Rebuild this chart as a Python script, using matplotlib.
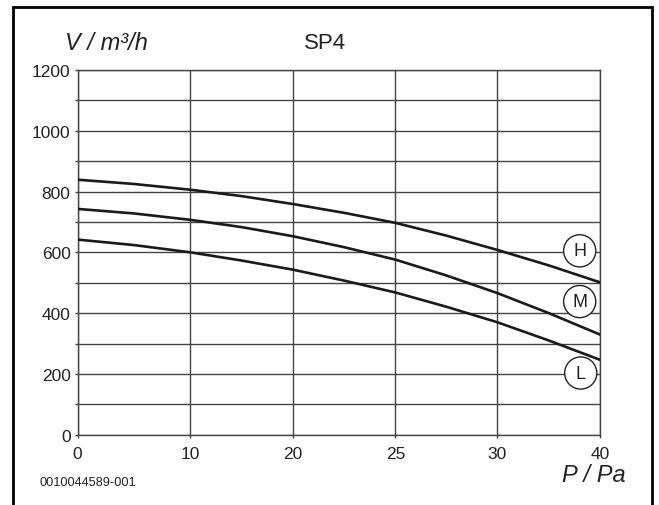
import numpy as np
import matplotlib
matplotlib.use("Agg")
import matplotlib.pyplot as plt
from matplotlib.patches import Rectangle

# ---- data ----
pressure = [0, 5, 10, 15, 20, 22.5, 25, 27.5, 30, 35, 40]
flow_h = [839, 825, 806, 785, 759, 730, 697, 655, 608, 557, 501]
flow_m = [743, 728, 707, 683, 653, 617, 576, 524, 466, 400, 329]
flow_l = [642, 624, 600, 573, 543, 507, 468, 421, 370, 310, 246]

x_ticks = [0, 10, 20, 25, 30, 40]
y_ticks = [0, 200, 400, 600, 800, 1000, 1200]
y_grid = list(range(0, 1300, 100))

labels = ["H", "M", "L"]
label_pos = [(38.0, 605), (38.0, 438), (38.1, 203)]

# x axis is not linear: tick slots are (nearly) evenly spaced
slot_pos = [0, 113, 215.5, 318, 420, 523]


def fwd(x):
    return np.interp(x, x_ticks, slot_pos)


def inv(x):
    return np.interp(x, slot_pos, x_ticks)


plt.rcParams["font.family"] = ["Liberation Sans", "DejaVu Sans"]

fig = plt.figure(figsize=(6.59, 5.06), dpi=100)
ax = fig.add_axes([77.5 / 659, 1 - 435.7 / 506, (600.3 - 77.5) / 659, (435.7 - 71) / 506])

ax.set_xscale("function", functions=(fwd, inv))
ax.set_xlim(0, 40)
ax.set_ylim(0, 1200)

grid_c = "#444444"
for v in y_grid:
    ax.axhline(v, color=grid_c, lw=1.0, zorder=1)
for v in x_ticks:
    ax.axvline(v, color=grid_c, lw=1.0, zorder=1)

for s in ax.spines.values():
    s.set_color(grid_c)
    s.set_linewidth(1.0)

for ys in (flow_h, flow_m, flow_l):
    ax.plot(pressure, ys, color="#1a1a1a", lw=1.9, solid_capstyle="butt", zorder=3)

for lab, (px, py) in zip(labels, label_pos):
    ax.text(px, py, lab, ha="center", va="center", fontsize=13, color="#222222",
            zorder=4, bbox=dict(boxstyle="circle,pad=0.42", fc="white", ec="#222222", lw=1.0))

ax.set_xticks(x_ticks)
ax.set_xticklabels([str(t) for t in x_ticks])
ax.set_xticks([], minor=True)
ax.set_yticks(y_ticks)
ax.set_yticks([v for v in y_grid if v not in y_ticks], minor=True)
ax.tick_params(axis="both", which="both", length=2, width=1.0, color=grid_c,
               labelsize=12.5, labelcolor="#222222")
ax.tick_params(axis="y", pad=3)
ax.tick_params(axis="x", pad=6)

fig.text(65 / 659, 1 - 44 / 506, "V / m³/h", fontsize=17, style="italic",
         ha="left", va="center", color="#222222")
fig.text(325 / 659, 1 - 44 / 506, "SP4", fontsize=16, ha="center", va="center",
         color="#222222")
fig.text(626 / 659, 1 - 482 / 506, "P / Pa", fontsize=17, style="italic",
         ha="right", va="baseline", color="#222222")
fig.text(40 / 659, 1 - 483 / 506, "0010044589-001", fontsize=9.2, ha="left",
         va="center", color="#222222")

# outer frame (bottom edge falls outside the image)
fig.patches.append(Rectangle((12.5 / 659, -0.05), (652 - 12.5) / 659, 1.05 - 7.5 / 506,
                             transform=fig.transFigure, fill=False, ec="black", lw=2.0))

fig.savefig("out.png", dpi=100)
